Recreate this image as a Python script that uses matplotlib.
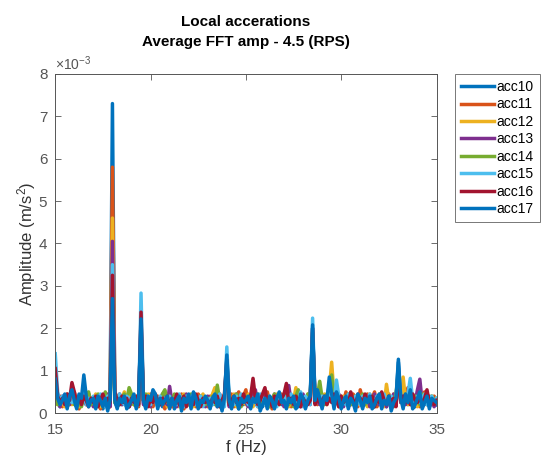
import numpy as np
import matplotlib
matplotlib.use("Agg")
import matplotlib.pyplot as plt
from matplotlib.ticker import ScalarFormatter

plt.rcParams["font.family"] = ["Liberation Sans", "DejaVu Sans"]
plt.rcParams["mathtext.fontset"] = "custom"
plt.rcParams["mathtext.rm"] = "Liberation Sans"
plt.rcParams["mathtext.it"] = "Liberation Sans:italic"

# frequency axis, 0.125 Hz bins from 15 to 35 Hz
f_start = 15.0
f_step = 0.125
n_bins = 161
freq = f_start + f_step * np.arange(n_bins)

# amplitudes in units of 1e-3 m/s^2 (one row = 2 Hz)
acc10 = [
    0.70, 0.30, 0.15, 0.25, 0.35, 0.20, 0.30, 0.40, 0.25, 0.15, 0.35, 0.30, 0.60, 0.35, 0.20, 0.25,
    0.30, 0.15, 0.35, 0.25, 0.10, 0.30, 0.20, 0.25, 7.30, 0.25, 0.15, 0.30, 0.20, 0.35, 0.25, 0.15,
    0.25, 0.35, 0.20, 0.30, 2.10, 0.25, 0.15, 0.35, 0.25, 0.45, 0.35, 0.20, 0.30, 0.15, 0.25, 0.35,
    0.20, 0.30, 0.10, 0.25, 0.35, 0.15, 0.30, 0.20, 0.35, 0.25, 0.40, 0.30, 0.15, 0.25, 0.20, 0.35,
    0.25, 0.15, 0.30, 0.35, 0.20, 0.25, 0.15, 0.30, 1.30, 0.25, 0.20, 0.35, 0.25, 0.10, 0.30, 0.20,
    0.25, 0.35, 0.15, 0.30, 0.20, 0.40, 0.25, 0.15, 0.30, 0.20, 0.35, 0.25, 0.15, 0.30, 0.40, 0.20,
    0.25, 0.15, 0.30, 0.20, 0.35, 0.25, 0.15, 0.40, 0.30, 0.20, 0.25, 0.35, 2.00, 0.25, 0.45, 0.30,
    0.20, 0.35, 0.25, 0.70, 0.40, 0.25, 0.45, 0.30, 0.20, 0.25, 0.35, 0.15, 0.30, 0.20, 0.25, 0.40,
    0.25, 0.15, 0.30, 0.20, 0.35, 0.25, 0.15, 0.30, 0.40, 0.20, 0.25, 0.15, 0.35, 0.25, 0.20, 0.30,
    1.20, 0.30, 0.25, 0.40, 0.20, 0.45, 0.25, 0.15, 0.30, 0.40, 0.25, 0.20, 0.35, 0.15, 0.30, 0.25,
    0.20,
]
acc11 = [
    0.60, 0.25, 0.40, 0.15, 0.30, 0.45, 0.20, 0.35, 0.50, 0.25, 0.10, 0.40, 0.30, 0.20, 0.45, 0.25,
    0.20, 0.40, 0.25, 0.10, 0.35, 0.45, 0.30, 0.15, 5.80, 0.50, 0.35, 0.20, 0.40, 0.25, 0.15, 0.35,
    0.40, 0.20, 0.30, 0.15, 1.80, 0.40, 0.30, 0.20, 0.45, 0.15, 0.30, 0.40, 0.25, 0.35, 0.10, 0.30,
    0.35, 0.15, 0.40, 0.25, 0.20, 0.45, 0.10, 0.30, 0.20, 0.40, 0.25, 0.15, 0.45, 0.35, 0.20, 0.30,
    0.15, 0.40, 0.25, 0.30, 0.45, 0.20, 0.35, 0.25, 1.10, 0.20, 0.45, 0.15, 0.35, 0.50, 0.25, 0.40,
    0.55, 0.20, 0.35, 0.25, 0.45, 0.15, 0.30, 0.40, 0.20, 0.50, 0.25, 0.10, 0.40, 0.25, 0.30, 0.45,
    0.20, 0.35, 0.50, 0.15, 0.30, 0.25, 0.45, 0.20, 0.35, 0.15, 0.40, 0.25, 1.80, 0.40, 0.20, 0.50,
    0.35, 0.25, 0.45, 0.30, 0.60, 0.20, 0.35, 0.15, 0.40, 0.25, 0.50, 0.30, 0.20, 0.45, 0.35, 0.15,
    0.55, 0.30, 0.20, 0.45, 0.25, 0.35, 0.50, 0.15, 0.30, 0.40, 0.25, 0.20, 0.45, 0.30, 0.15, 0.35,
    1.00, 0.25, 0.45, 0.30, 0.60, 0.20, 0.35, 0.25, 0.40, 0.15, 0.35, 0.50, 0.25, 0.30, 0.20, 0.40,
    0.30,
]
acc12 = [
    0.50, 0.20, 0.35, 0.25, 0.15, 0.40, 0.30, 0.20, 0.45, 0.30, 0.15, 0.25, 0.40, 0.50, 0.20, 0.35,
    0.25, 0.45, 0.30, 0.15, 0.40, 0.20, 0.35, 0.25, 4.60, 0.30, 0.40, 0.20, 0.35, 0.50, 0.25, 0.50,
    0.30, 0.20, 0.40, 0.25, 1.70, 0.35, 0.20, 0.45, 0.15, 0.30, 0.40, 0.20, 0.35, 0.25, 0.45, 0.15,
    0.30, 0.40, 0.20, 0.35, 0.15, 0.25, 0.45, 0.30, 0.20, 0.35, 0.15, 0.40, 0.25, 0.30, 0.45, 0.20,
    0.35, 0.25, 0.45, 0.60, 0.30, 0.15, 0.40, 0.25, 1.00, 0.35, 0.20, 0.45, 0.15, 0.30, 0.40, 0.25,
    0.20, 0.45, 0.30, 0.15, 0.35, 0.25, 0.40, 0.20, 0.50, 0.30, 0.15, 0.35, 0.25, 0.45, 0.20, 0.30,
    0.40, 0.25, 0.15, 0.35, 0.30, 0.60, 0.20, 0.40, 0.25, 0.15, 0.45, 0.30, 1.70, 0.35, 0.25, 0.40,
    0.30, 0.45, 0.20, 0.55, 1.20, 0.40, 0.25, 0.35, 0.15, 0.40, 0.30, 0.20, 0.45, 0.25, 0.35, 0.20,
    0.40, 0.25, 0.35, 0.15, 0.45, 0.30, 0.20, 0.40, 0.25, 0.35, 0.15, 0.68, 0.30, 0.20, 0.45, 0.25,
    0.90, 0.35, 0.85, 0.30, 0.20, 0.45, 0.25, 0.40, 0.15, 0.35, 0.25, 0.45, 0.20, 0.30, 0.40, 0.25,
    0.35,
]
acc13 = [
    0.55, 0.30, 0.15, 0.40, 0.25, 0.35, 0.20, 0.45, 0.30, 0.15, 0.40, 0.25, 0.35, 0.20, 0.45, 0.30,
    0.15, 0.35, 0.25, 0.40, 0.20, 0.30, 0.45, 0.15, 4.05, 0.35, 0.25, 0.45, 0.20, 0.30, 0.40, 0.15,
    0.35, 0.25, 0.15, 0.40, 2.00, 0.20, 0.35, 0.30, 0.15, 0.40, 0.25, 0.35, 0.20, 0.45, 0.30, 0.20,
    0.63, 0.25, 0.40, 0.15, 0.30, 0.35, 0.20, 0.45, 0.25, 0.15, 0.40, 0.30, 0.20, 0.35, 0.25, 0.15,
    0.40, 0.30, 0.20, 0.35, 0.15, 0.45, 0.25, 0.30, 1.20, 0.15, 0.35, 0.25, 0.45, 0.20, 0.30, 0.40,
    0.25, 0.15, 0.35, 0.45, 0.55, 0.20, 0.30, 0.25, 0.40, 0.15, 0.35, 0.30, 0.45, 0.20, 0.25, 0.35,
    0.15, 0.40, 0.65, 0.25, 0.20, 0.35, 0.30, 0.15, 0.45, 0.25, 0.35, 0.20, 1.90, 0.45, 0.30, 0.20,
    0.40, 0.25, 0.35, 0.60, 0.50, 0.20, 0.30, 0.45, 0.25, 0.15, 0.35, 0.40, 0.20, 0.30, 0.25, 0.45,
    0.20, 0.35, 0.25, 0.40, 0.15, 0.30, 0.45, 0.25, 0.20, 0.35, 0.40, 0.15, 0.30, 0.25, 0.45, 0.20,
    1.05, 0.25, 0.40, 0.20, 0.35, 0.30, 0.45, 0.25, 0.55, 0.80, 0.25, 0.35, 0.20, 0.40, 0.30, 0.15,
    0.30,
]
acc14 = [
    0.45, 0.20, 0.35, 0.25, 0.40, 0.15, 0.30, 0.45, 0.20, 0.35, 0.25, 0.15, 0.40, 0.30, 0.50, 0.20,
    0.35, 0.25, 0.45, 0.30, 0.15, 0.50, 0.20, 0.35, 2.20, 0.25, 0.40, 0.20, 0.35, 0.45, 0.30, 0.60,
    0.45, 0.20, 0.35, 0.25, 1.90, 0.30, 0.45, 0.20, 0.35, 0.25, 0.40, 0.15, 0.30, 0.45, 0.55, 0.25,
    0.30, 0.20, 0.45, 0.25, 0.35, 0.15, 0.40, 0.30, 0.20, 0.45, 0.25, 0.35, 0.15, 0.40, 0.30, 0.20,
    0.35, 0.25, 0.40, 0.20, 0.66, 0.30, 0.15, 0.40, 1.10, 0.25, 0.35, 0.20, 0.45, 0.30, 0.15, 0.35,
    0.40, 0.25, 0.15, 0.35, 0.30, 0.45, 0.20, 0.35, 0.25, 0.40, 0.15, 0.30, 0.45, 0.20, 0.35, 0.25,
    0.30, 0.45, 0.20, 0.35, 0.15, 0.40, 0.55, 0.25, 0.30, 0.20, 0.45, 0.35, 1.80, 0.25, 0.40, 0.75,
    0.35, 0.20, 0.45, 0.30, 0.90, 0.35, 0.25, 0.40, 0.15, 0.35, 0.25, 0.45, 0.20, 0.30, 0.40, 0.25,
    0.30, 0.45, 0.20, 0.35, 0.25, 0.40, 0.15, 0.30, 0.45, 0.20, 0.35, 0.25, 0.40, 0.15, 0.30, 0.45,
    0.95, 0.30, 0.20, 0.45, 0.25, 0.35, 0.15, 0.40, 0.30, 0.20, 0.45, 0.25, 0.35, 0.20, 0.40, 0.30,
    0.25,
]
acc15 = [
    1.40, 0.50, 0.25, 0.40, 0.20, 0.35, 0.45, 0.25, 0.30, 0.15, 0.40, 0.30, 0.55, 0.20, 0.35, 0.25,
    0.40, 0.20, 0.35, 0.45, 0.25, 0.15, 0.40, 0.30, 3.50, 0.35, 0.25, 0.45, 0.30, 0.20, 0.40, 0.35,
    0.25, 0.40, 0.30, 0.20, 2.83, 0.35, 0.25, 0.40, 0.20, 0.50, 0.30, 0.15, 0.40, 0.25, 0.35, 0.30,
    0.40, 0.25, 0.35, 0.20, 0.45, 0.30, 0.15, 0.40, 0.25, 0.35, 0.45, 0.20, 0.30, 0.40, 0.15, 0.35,
    0.25, 0.35, 0.20, 0.40, 0.30, 0.45, 0.25, 0.15, 1.56, 0.35, 0.30, 0.20, 0.40, 0.25, 0.45, 0.30,
    0.35, 0.20, 0.40, 0.25, 0.30, 0.15, 0.45, 0.35, 0.20, 0.30, 0.40, 0.25, 0.35, 0.15, 0.45, 0.30,
    0.25, 0.40, 0.30, 0.45, 0.20, 0.35, 0.25, 0.50, 0.15, 0.40, 0.30, 0.20, 2.24, 0.35, 0.45, 0.30,
    0.40, 0.25, 0.35, 0.45, 0.30, 0.20, 0.78, 0.40, 0.25, 0.35, 0.20, 0.45, 0.30, 0.25, 0.40, 0.35,
    0.20, 0.40, 0.30, 0.25, 0.45, 0.35, 0.20, 0.40, 0.30, 0.15, 0.45, 0.25, 0.35, 0.40, 0.20, 0.30,
    1.10, 0.40, 0.25, 0.35, 0.45, 0.82, 0.30, 0.20, 0.40, 0.25, 0.35, 0.45, 0.20, 0.30, 0.40, 0.25,
    0.35,
]
acc16 = [
    1.05, 0.40, 0.25, 0.35, 0.20, 0.45, 0.30, 0.72, 0.50, 0.25, 0.35, 0.20, 0.40, 0.30, 0.15, 0.35,
    0.25, 0.40, 0.15, 0.30, 0.45, 0.20, 0.35, 0.25, 3.25, 0.50, 0.30, 0.20, 0.40, 0.25, 0.35, 0.15,
    0.35, 0.25, 0.40, 0.20, 2.38, 0.30, 0.40, 0.15, 0.35, 0.25, 0.45, 0.30, 0.20, 0.35, 0.25, 0.40,
    0.15, 0.35, 0.25, 0.45, 0.20, 0.30, 0.40, 0.15, 0.35, 0.25, 0.20, 0.45, 0.30, 0.15, 0.35, 0.25,
    0.30, 0.20, 0.35, 0.25, 0.40, 0.15, 0.30, 0.45, 1.25, 0.20, 0.30, 0.40, 0.25, 0.35, 0.20, 0.45,
    0.30, 0.25, 0.40, 0.82, 0.35, 0.20, 0.30, 0.45, 0.60, 0.25, 0.35, 0.15, 0.40, 0.30, 0.20, 0.35,
    0.45, 0.70, 0.25, 0.35, 0.20, 0.40, 0.30, 0.15, 0.35, 0.25, 0.20, 0.30, 2.00, 0.20, 0.35, 0.25,
    0.30, 0.40, 0.20, 0.35, 0.25, 0.45, 0.30, 0.15, 0.40, 0.25, 0.35, 0.20, 0.50, 0.30, 0.25, 0.40,
    0.35, 0.20, 0.45, 0.30, 0.25, 0.40, 0.15, 0.35, 0.25, 0.50, 0.30, 0.20, 0.40, 0.25, 0.35, 0.15,
    1.00, 0.30, 0.40, 0.25, 0.35, 0.20, 0.45, 0.30, 0.25, 0.40, 0.20, 0.35, 0.55, 0.25, 0.30, 0.20,
    0.30,
]
acc17 = [
    0.80, 0.35, 0.20, 0.30, 0.45, 0.10, 0.40, 0.55, 0.30, 0.10, 0.45, 0.35, 0.90, 0.40, 0.15, 0.30,
    0.35, 0.10, 0.40, 0.30, 0.15, 0.35, 0.05, 0.30, 2.70, 0.30, 0.10, 0.35, 0.25, 0.40, 0.10, 0.20,
    0.30, 0.45, 0.10, 0.35, 2.22, 0.30, 0.10, 0.40, 0.30, 0.55, 0.45, 0.10, 0.35, 0.20, 0.30, 0.40,
    0.10, 0.35, 0.15, 0.30, 0.40, 0.05, 0.35, 0.25, 0.45, 0.10, 0.50, 0.35, 0.10, 0.30, 0.25, 0.40,
    0.30, 0.10, 0.35, 0.45, 0.15, 0.30, 0.05, 0.35, 1.37, 0.30, 0.10, 0.40, 0.30, 0.10, 0.35, 0.25,
    0.30, 0.40, 0.10, 0.35, 0.25, 0.45, 0.05, 0.20, 0.35, 0.10, 0.40, 0.30, 0.10, 0.35, 0.50, 0.25,
    0.30, 0.10, 0.35, 0.25, 0.40, 0.10, 0.20, 0.45, 0.35, 0.10, 0.30, 0.40, 2.08, 0.30, 0.55, 0.35,
    0.10, 0.40, 0.30, 0.85, 0.45, 0.10, 0.50, 0.35, 0.10, 0.30, 0.40, 0.10, 0.35, 0.25, 0.05, 0.45,
    0.30, 0.10, 0.35, 0.25, 0.40, 0.10, 0.20, 0.35, 0.45, 0.10, 0.30, 0.20, 0.40, 0.05, 0.25, 0.35,
    1.27, 0.35, 0.10, 0.45, 0.25, 0.55, 0.10, 0.20, 0.35, 0.50, 0.10, 0.25, 0.40, 0.10, 0.35, 0.30,
    0.25,
]

series = [acc10, acc11, acc12, acc13, acc14, acc15, acc16, acc17]
labels = ["acc10", "acc11", "acc12", "acc13", "acc14", "acc15", "acc16", "acc17"]
colors = ["#0072BD", "#D95319", "#EDB120", "#7E2F8E",
          "#77AC30", "#4DBEEE", "#A2142F", "#0072BD"]

fig = plt.figure(figsize=(5.47, 4.59), dpi=100)
ax = fig.add_axes([0.101, 0.100, 0.697, 0.739])

for vals, lab, col in zip(series, labels, colors):
    ax.plot(freq, np.array(vals) * 1e-3, color=col, lw=2.5, label=lab)

ax.set_xlim(15, 35)
ax.set_ylim(0, 8e-3)
ax.set_xticks([15, 20, 25, 30, 35])
ax.set_yticks(np.arange(0, 9) * 1e-3)

fmt = ScalarFormatter(useMathText=True)
fmt.set_powerlimits((-2, 2))
ax.yaxis.set_major_formatter(fmt)
ax.yaxis.get_offset_text().set_fontsize(10)
ax.yaxis.get_offset_text().set_color("#555555")

ax.tick_params(direction="in", top=True, right=True, labelsize=11,
               colors="#555555", length=4, width=0.6)
ax.tick_params(axis="x", pad=7)
ax.tick_params(axis="y", pad=5)
for s in ax.spines.values():
    s.set_color("#555555")
    s.set_linewidth(0.7)

ax.set_xlabel("f (Hz)", fontsize=12, color="#333333", labelpad=2)
ax.set_ylabel("Amplitude (m/s$^2$)", fontsize=12, color="#333333", labelpad=0)
ax.set_title("Local accerations\nAverage FFT amp - 4.5 (RPS)",
             fontsize=11, fontweight="bold", pad=20, linespacing=1.6)

leg = fig.legend(loc="upper left", bbox_to_anchor=(0.832, 0.838),
                 fontsize=10, frameon=True, fancybox=False,
                 handlelength=2.4, handletextpad=0.2, labelspacing=0.25,
                 borderpad=0.4, borderaxespad=0)
leg.get_frame().set_edgecolor("#555555")
leg.get_frame().set_linewidth(0.7)

fig.savefig("out.png", dpi=100)
